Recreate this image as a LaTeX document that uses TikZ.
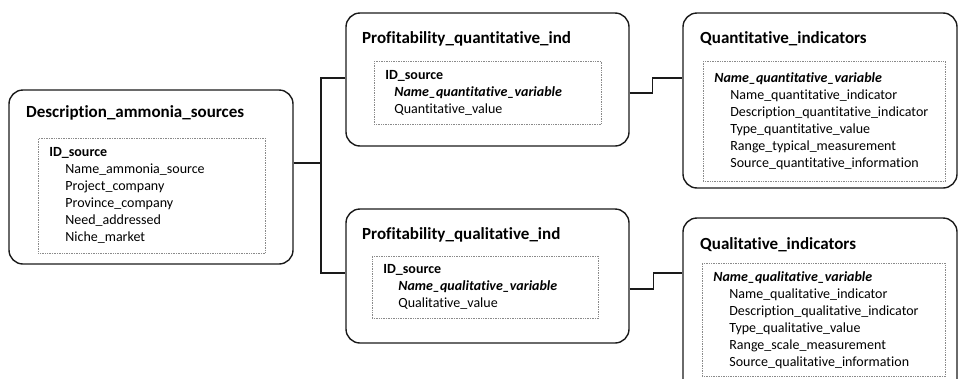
\documentclass[tikz,border=0pt]{standalone}
\usepackage{fontspec}
\setmainfont{Carlito}[Ligatures={NoCommon}]
\usepackage{tikz}
\usetikzlibrary{positioning}
\definecolor{frame}{HTML}{1A1A1A}
\definecolor{dotline}{HTML}{8A8A8A}

\newcommand{\fld}{\hspace*{16pt}}

\begin{document}
\begin{tikzpicture}[
  x=1pt, y=-1pt,
  table/.style={draw=frame, line width=1.4pt, rounded corners=14pt, inner sep=0pt},
  title/.style={anchor=west, inner sep=0pt, font=\fontsize{17}{20}\selectfont\bfseries},
  fields/.style={draw=dotline, densely dotted, line width=0.7pt, anchor=north west,
                 align=left, inner xsep=11pt, inner ysep=8pt,
                 font=\fontsize{14}{17}\selectfont},
  link/.style={draw=frame, line width=1.3pt}
]
  \clip (0,0) rectangle (958,378);
  \useasboundingbox (0,0) rectangle (958,378);

  % outer tables
  \node[table, minimum width=284pt, minimum height=174pt] (desc) at (151,177) {};
  \node[table, minimum width=283pt, minimum height=133pt] (quantind) at (487.5,79.5) {};
  \node[table, minimum width=283pt, minimum height=134pt] (qualind) at (487.5,276) {};
  \node[table, minimum width=274pt, minimum height=175pt] (quant) at (820,100.5) {};
  \node[table, minimum width=274pt, minimum height=180pt] (qual) at (820,308) {};

  % titles
  \node[title] (desctitle) at (26,113) {Description\_ammonia\_sources};
  \node[title] (quantindtitle) at (362,39) {Profitability\_quantitative\_ind};
  \node[title] (qualindtitle) at (362,235) {Profitability\_qualitative\_ind};
  \node[title] (quanttitle) at (700,39) {Quantitative\_indicators};
  \node[title] (qualtitle) at (700,245) {Qualitative\_indicators};

  % field lists
  \node[fields, text width=205pt, minimum height=115pt] (descfields) at (38,138)
    {\textbf{ID\_source}\\
     \fld Name\_ammonia\_source\\
     \fld Project\_company\\
     \fld Province\_company\\
     \fld Need\_addressed\\
     \fld Niche\_market};
  \node[fields, text width=205pt, minimum height=63pt] (quantindfields) at (374,61)
    {\textbf{ID\_source}\\
     \hspace*{9pt}\textbf{\textit{Name\_quantitative\_variable}}\\
     \hspace*{9pt}Quantitative\_value};
  \node[fields, text width=204pt, minimum height=62pt] (qualindfields) at (372,256)
    {\textbf{ID\_source}\\
     \hspace*{15pt}\textbf{\textit{Name\_qualitative\_variable}}\\
     \hspace*{15pt}Qualitative\_value};
  \node[fields, text width=220pt, minimum height=120pt] (quantfields) at (703,61)
    {\textbf{\textit{Name\_quantitative\_variable}}\\
     \fld Name\_quantitative\_indicator\\
     \fld Description\_quantitative\_indicator\\
     \fld Type\_quantitative\_value\\
     \fld Range\_typical\_measurement\\
     \fld Source\_quantitative\_information};
  \node[fields, text width=221pt, minimum height=112pt] (qualfields) at (702,263)
    {\textbf{\textit{Name\_qualitative\_variable}}\\
     \fld Name\_qualitative\_indicator\\
     \fld Description\_qualitative\_indicator\\
     \fld Type\_qualitative\_value\\
     \fld Range\_scale\_measurement\\
     \fld Source\_qualitative\_information};

  % connectors
  \coordinate (hub) at (321,163);
  \draw[link] ([yshift=14pt]desc.east) -- (hub);
  \draw[link] ([yshift=1.5pt]quantind.west) -| (hub) |- ([yshift=3pt]qualind.west);
  \draw[link] ([yshift=-13.5pt]quantind.east) -- ++(23,0) |- ([yshift=22.5pt]quant.west);
  \draw[link] ([yshift=-13pt]qualind.east) -- ++(24,0) |- ([yshift=35pt]qual.west);
\end{tikzpicture}
\end{document}
